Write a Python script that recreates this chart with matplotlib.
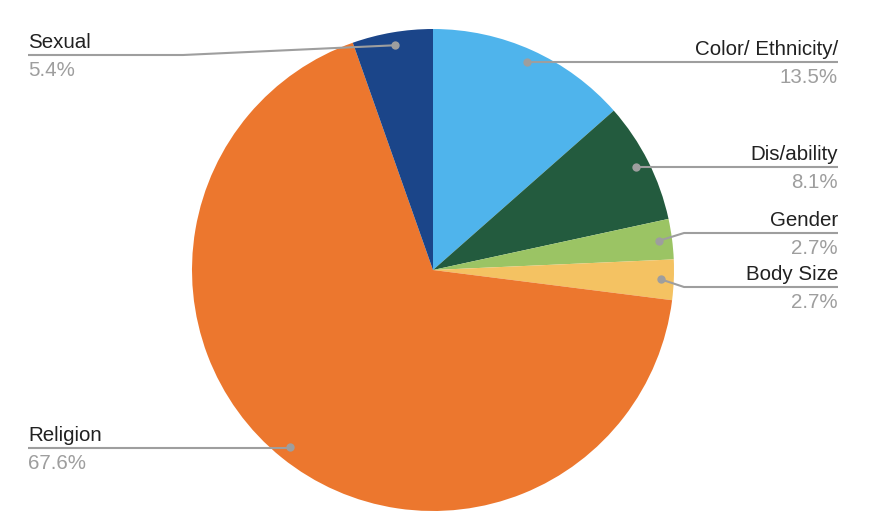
import numpy as np
import matplotlib
matplotlib.use('Agg')
import matplotlib.pyplot as plt

labels = ['Color/ Ethnicity/', 'Dis/ability', 'Gender', 'Body Size', 'Religion', 'Sexual']
values = [13.5, 8.1, 2.7, 2.7, 67.6, 5.4]
colors = ['#4fb4ec', '#235b3e', '#9bc464', '#f4c262', '#ec772e', '#1b4589']

W, H = 872, 532
cx, cy, R = 433, H - 270, 241

fig = plt.figure(figsize=(W / 100, H / 100), dpi=100)
ax = fig.add_axes([0, 0, 1, 1])

wedges, _ = ax.pie(values, colors=colors, startangle=90, counterclock=False,
                   center=(cx, cy), radius=R, frame=True,
                   wedgeprops=dict(linewidth=0))
ax.set_xlim(0, W)
ax.set_ylim(0, H)
ax.set_aspect('equal')
ax.axis('off')

# label layout: (side, line y in pixels from top, elbow x or None)
layout = {
    'Color/ Ethnicity/': ('r', 62, None),
    'Dis/ability': ('r', 167, None),
    'Gender': ('r', 233, 684),
    'Body Size': ('r', 287, 684),
    'Religion': ('l', 448, None),
    'Sexual': ('l', 55, 183),
}
line_c = '#9e9e9e'
font = 'Liberation Sans'
fs = 14.8

for w, lab, v in zip(wedges, labels, values):
    mid = np.deg2rad((w.theta1 + w.theta2) / 2)
    px = cx + 0.946 * R * np.cos(mid)
    py = cy + 0.946 * R * np.sin(mid)
    side, ly, elbow = layout[lab]
    ly = H - ly
    xe = 838 if side == 'r' else 28
    if elbow is None:
        xs, ys = [px, xe], [ly, ly]
    else:
        xs, ys = [px, elbow, xe], [py, ly, ly]
    ax.plot(xs, ys, color=line_c, lw=1.5, solid_capstyle='butt')
    ax.plot([px], [py], 'o', color=line_c, ms=6, mec='none')
    ha = 'right' if side == 'r' else 'left'
    ax.text(xe, ly + 3, lab, ha=ha, va='bottom', fontsize=fs, family=font, color='#212121')
    ax.text(xe, ly - 6, f'{v:.1f}%', ha=ha, va='top', fontsize=fs, family=font, color='#9e9e9e')

fig.savefig('out.png', dpi=100)
